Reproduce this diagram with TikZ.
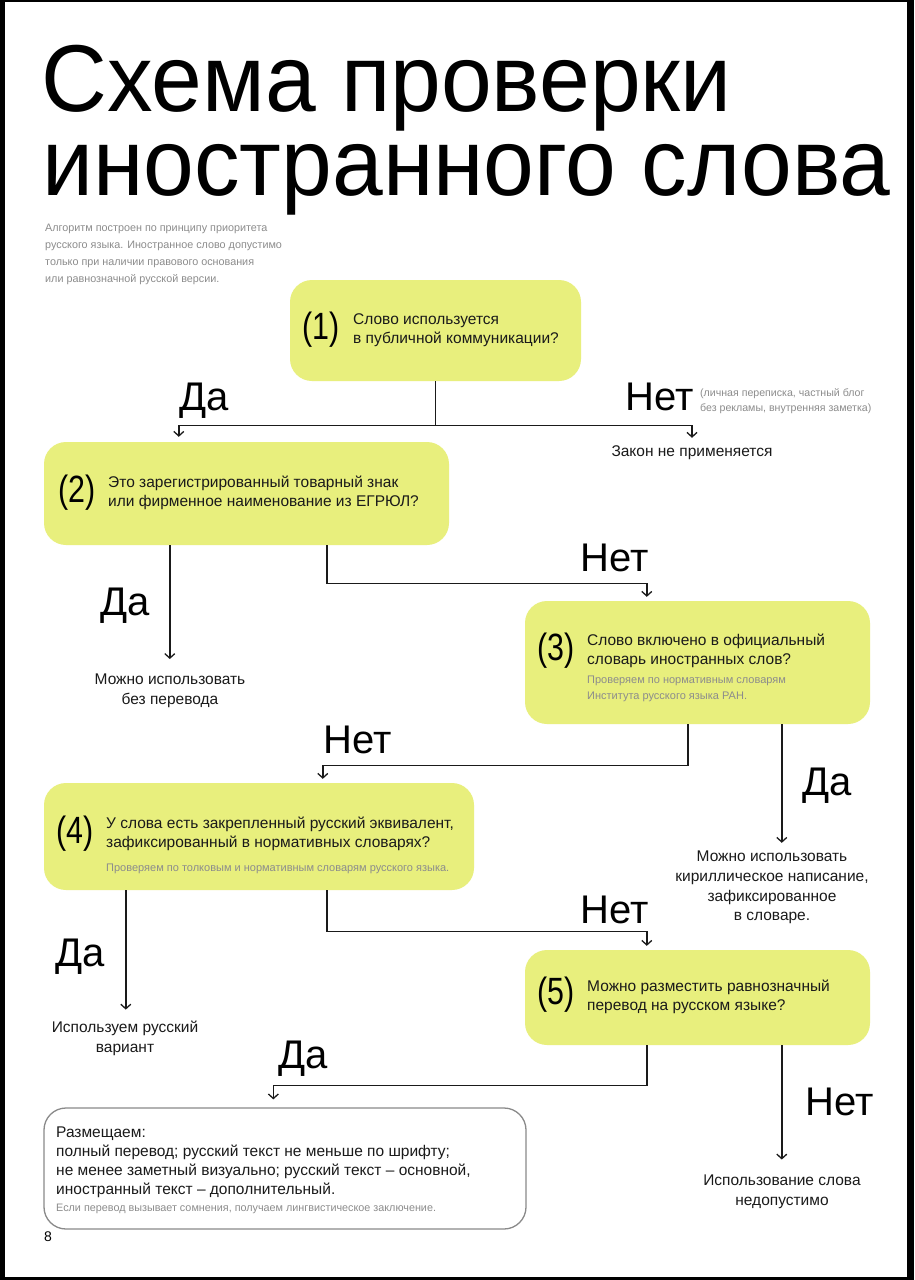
\documentclass[tikz,border=0pt]{standalone}
\usepackage{fontspec}
\setmainfont{Liberation Sans}
\usetikzlibrary{arrows.meta,calc}
\definecolor{lime}{RGB}{232,239,125}
\definecolor{notegray}{RGB}{140,140,140}
\definecolor{ink}{RGB}{26,26,26}
\definecolor{frame}{RGB}{138,138,138}
\newcommand\myfs[2]{\fontsize{#1}{#2}\selectfont}
\begin{document}
\begin{tikzpicture}[x=1pt,y=-1pt,
  qbox/.style={fill=lime, rounded corners=22pt, inner sep=0},
  numlab/.style={inner sep=0, anchor=west, font=\myfs{38}{38}, xscale=0.8},
  qtext/.style={inner sep=0, anchor=west, align=left, font=\myfs{15.5}{19.5}, text=ink},
  smallnote/.style={inner sep=0, anchor=west, align=left, font=\myfs{11}{16}, text=notegray},
  outtext/.style={inner sep=0, align=center, font=\myfs{15.5}{19.7}, text=ink},
  bigword/.style={inner sep=0, anchor=base west, font=\myfs{40}{40}, text=black},
  titleline/.style={inner sep=0, anchor=base west, font=\myfs{95}{95}, xscale=0.96, text depth=0pt},
  conn/.style={draw=ink, line width=1.4pt},
  arr/.style={conn, -{Straight Barb[length=4.5pt,width=10pt,line width=1.3pt]}},
]
\useasboundingbox (0,0) rectangle (914,1280);
\fill[black] (0,0) rectangle (914,1280);
\fill[white] (5,2) rectangle (907,1277);

% title
\node[titleline] (t1) at (41,111) {Схема проверки};
\node[titleline] (t2) at (42,195) {иностранного слова};
\node[inner sep=0, anchor=west, align=left, font=\myfs{10.8}{17}, text=notegray] (sub) at (45,254)
  {Алгоритм построен по принципу приоритета\\русского языка. Иностранное слово допустимо\\только при наличии правового основания\\или равнозначной русской версии.};

% box 1
\node[qbox, minimum width=291pt, minimum height=101pt] (b1) at (435.5,330.5) {};
\node[numlab] (n1) at (302,330) {(1)};
\node[qtext] (q1) at (353,330) {Слово используется\\в публичной коммуникации?};

% box 2
\node[qbox, minimum width=405pt, minimum height=103pt] (b2) at (246.5,493.5) {};
\node[numlab] (n2) at (58,493) {(2)};
\node[qtext] (q2) at (108,493) {Это зарегистрированный товарный знак\\или фирменное наименование из ЕГРЮЛ?};

% box 3
\node[qbox, minimum width=345pt, minimum height=123pt] (b3) at (697.5,662.5) {};
\node[numlab] (n3) at (537,651) {(3)};
\node[qtext] (q3) at (587,651) {Слово включено в официальный\\словарь иностранных слов?};
\node[smallnote] (s3) at (587,689) {Проверяем по нормативным словарям\\Института русского языка РАН.};

% box 4
\node[qbox, minimum width=430pt, minimum height=107pt] (b4) at (259,836.5) {};
\node[numlab] (n4) at (56,834) {(4)};
\node[qtext] (q4) at (106,834) {У слова есть закрепленный русский эквивалент,\\зафиксированный в нормативных словарях?};
\node[smallnote] (s4) at (106,869) {Проверяем по толковым и нормативным словарям русского языка.};

% box 5
\node[qbox, minimum width=345pt, minimum height=95pt] (b5) at (697.5,997.5) {};
\node[numlab] (n5) at (537,995) {(5)};
\node[qtext] (q5) at (587,997) {Можно разместить равнозначный\\перевод на русском языке?};

% box 6
\node[draw=frame, line width=1.3pt, fill=white, rounded corners=22pt, inner sep=0,
      minimum width=482pt, minimum height=121pt] (b6) at (285,1168.5) {};
\node[qtext, font=\myfs{15.5}{19}] (q6) at (56,1162.5) {Размещаем:\\полный перевод; русский текст не меньше по шрифту;\\не менее заметный визуально; русский текст – основной,\\иностранный текст – дополнительный.};
\node[smallnote, font=\myfs{10.8}{16}] (s6) at (56,1209) {Если перевод вызывает сомнения, получаем лингвистическое заключение.};

% outcomes
\node[outtext] (o1) at (692,453) {Закон не применяется};
\node[outtext] (o2) at (170,691) {Можно использовать\\без перевода};
\node[outtext] (o3) at (772,887.5) {Можно использовать\\кириллическое написание,\\зафиксированное\\в словаре.};
\node[outtext] (o4) at (125,1038) {Используем русский\\вариант};
\node[outtext] (o5) at (782,1191.5) {Использование слова\\недопустимо};

% big labels
\node[bigword] (da1) at (179,410) {Да};
\node[bigword] (net1) at (625,410) {Нет};
\node[inner sep=0, anchor=west, align=left, font=\myfs{10.6}{15}, text=notegray] (net1n) at (700,401.5)
  {(личная переписка, частный блог\\без рекламы, внутренняя заметка)};
\node[bigword] (da2) at (100,615) {Да};
\node[bigword] (net2) at (580,571) {Нет};
\node[bigword] (net3) at (323,753) {Нет};
\node[bigword] (da3) at (802,795) {Да};
\node[bigword] (da4) at (55,966) {Да};
\node[bigword] (net4) at (580,923) {Нет};
\node[bigword] (da5) at (278,1068) {Да};
\node[bigword] (net5) at (805,1115) {Нет};

\node[inner sep=0, font=\myfs{14}{14}] (pg) at (48,1237) {8};

% connectors
\coordinate (j1) at ($(b1.south)+(0,44)$);
\draw[conn] (b1.south) -- (j1);
\draw[arr, shorten >=5pt] (j1) -| ([xshift=135pt]b2.north west);
\draw[arr, shorten >=8pt] (j1) -| (o1.north);

\coordinate (c2) at ([xshift=126pt]b2.south west);
\draw[arr, shorten >=15pt] (c2) -- (c2 |- o2.north);
\draw[arr, shorten >=4pt] ([xshift=283pt]b2.south west) -- ++(0,38) -| ([xshift=122pt]b3.north west);

\draw[arr, shorten >=4pt] ([xshift=163pt]b3.south west) -- ++(0,41) -| ([xshift=279pt]b4.north west);
\coordinate (c5) at ([xshift=257pt]b3.south west);
\draw[arr, shorten >=8pt] (c5) -- (c5 |- o3.north);

\coordinate (c6) at ([xshift=82pt]b4.south west);
\draw[arr, shorten >=11pt] (c6) -- (c6 |- o4.north);
\draw[arr, shorten >=4pt] ([xshift=283pt]b4.south west) -- ++(0,41) -| ([xshift=122pt]b5.north west);

\draw[arr, shorten >=8pt] ([xshift=122pt]b5.south west) -- ++(0,40) -| ([xshift=230pt]b6.north west);
\coordinate (c9) at ([xshift=257pt]b5.south west);
\draw[arr, shorten >=15pt] (c9) -- (c9 |- o5.north);
\end{tikzpicture}
\end{document}
